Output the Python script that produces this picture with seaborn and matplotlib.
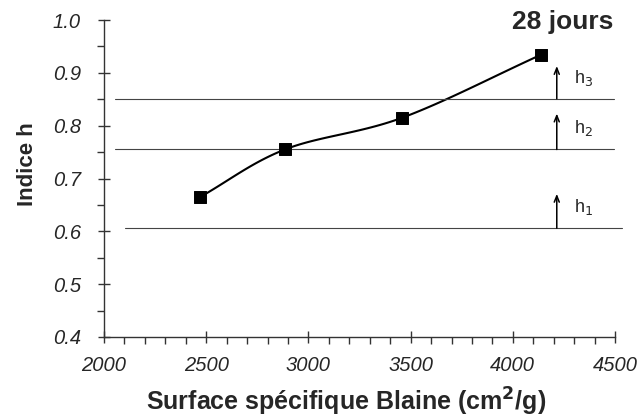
import numpy as np
import pandas as pd
import matplotlib
matplotlib.use("Agg")
import matplotlib.pyplot as plt
import seaborn as sns
from matplotlib.ticker import MultipleLocator

sns.set_style("white")
plt.rcParams['font.family'] = ['Liberation Sans', 'DejaVu Sans']

# Data
blaine = [2470, 2885, 3458, 4136]
indice_h = [0.665, 0.755, 0.815, 0.934]
seuils = [0.606, 0.755, 0.851]
seuil_labels = ["h$_1$", "h$_2$", "h$_3$"]
x_ticks = [2000, 2500, 3000, 3500, 4000, 4500]
y_ticks = [0.4, 0.5, 0.6, 0.7, 0.8, 0.9, 1.0]
title = "28 jours"


def smooth(xs, ys, n=30):
    # Catmull-Rom rendering of the measured points (curve drawing only)
    xs = np.asarray(xs, float); ys = np.asarray(ys, float)
    px = np.concatenate([[2*xs[0]-xs[1]], xs, [2*xs[-1]-xs[-2]]])
    py = np.concatenate([[2*ys[0]-ys[1]], ys, [2*ys[-1]-ys[-2]]])
    ox, oy = [], []
    t = np.linspace(0, 1, n)
    for i in range(1, len(px)-2):
        for P, out in ((px, ox), (py, oy)):
            p0, p1, p2, p3 = P[i-1], P[i], P[i+1], P[i+2]
            out.extend(0.5*((2*p1) + (-p0+p2)*t + (2*p0-5*p1+4*p2-p3)*t**2 + (-p0+3*p1-3*p2+p3)*t**3))
    return np.array(ox), np.array(oy)


fig = plt.figure(figsize=(6.4, 4.18), dpi=100)
ax = fig.add_axes([0.1625, 0.1938, 0.7985, 0.7582])

sx, sy = smooth(blaine, indice_h)
sns.lineplot(x=sx, y=sy, ax=ax, color='black', lw=1.5, sort=False, estimator=None)
df = pd.DataFrame({'x': blaine, 'y': indice_h})
sns.scatterplot(data=df, x='x', y='y', ax=ax, marker='s', s=75, color='black',
                edgecolor='black', zorder=5)

starts = [2103, 2054, 2054]
ends = [4535, 4495, 4495]
arrow_len = [0.065, 0.068, 0.062]
for yv, lab, x0, x1, al in zip(seuils, seuil_labels, starts, ends, arrow_len):
    ax.plot([x0, x1], [yv, yv], color='#444444', lw=0.8, clip_on=False)
    ax.annotate('', xy=(4215, yv + al), xytext=(4215, yv),
                arrowprops=dict(arrowstyle='->,head_length=0.45,head_width=0.18',
                                color='black', lw=1.1, shrinkA=0, shrinkB=0))
    ax.text(4300, yv + 0.04, lab, fontsize=13, va='center', ha='left')

ax.set_xticks(x_ticks)
ax.set_xticklabels([str(v) for v in x_ticks], fontstyle='italic', fontsize=14.5)
ax.set_yticks(y_ticks)
ax.set_yticklabels([f"{v:.1f}" for v in y_ticks], fontstyle='italic', fontsize=14.5)
ax.set_xlim(2000, 4500)
ax.set_ylim(0.4, 1.0)
ax.xaxis.set_minor_locator(MultipleLocator(100))
ax.yaxis.set_minor_locator(MultipleLocator(0.05))
ax.tick_params(axis='both', which='both', bottom=True, left=True)
ax.tick_params(axis='both', which='major', direction='inout', length=9, width=1,
               color='#333333')
ax.tick_params(axis='both', which='minor', direction='out', length=5, width=1,
               color='#333333')
ax.tick_params(axis='x', which='major', pad=9)
ax.tick_params(axis='y', which='major', pad=12)

sns.despine(ax=ax)
for s in ('left', 'bottom'):
    ax.spines[s].set_color('#333333')
    ax.spines[s].set_linewidth(1)

ax.set_xlabel("Surface spécifique Blaine (cm$^\\mathbf{2}$/g)", fontsize=18,
              fontweight='bold')
ax.xaxis.label.set_va('baseline')
ax.xaxis.set_label_coords(0.4746, -(411 - 337) / 317)
ax.set_ylabel("Indice h", fontsize=16, fontweight='bold')
ax.yaxis.set_label_coords(-0.13, 0.546)
fig.text(613/640, 1 - 29/418, title, fontsize=19, fontweight='bold',
         ha='right', va='baseline')

fig.savefig("out.png", dpi=100)
